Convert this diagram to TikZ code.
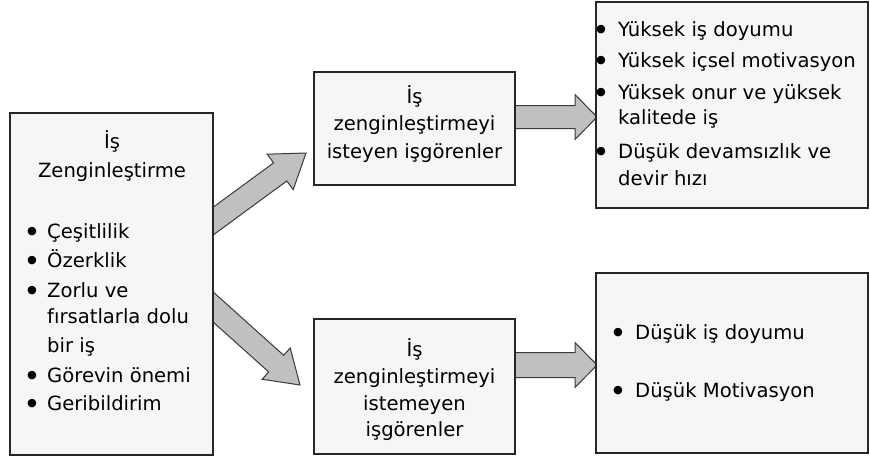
\documentclass[tikz,border=0pt]{standalone}
\usepackage{fontspec}
\setmainfont{DejaVu Sans}
\usetikzlibrary{calc}
\definecolor{boxfill}{HTML}{F6F6F6}
\definecolor{arrfill}{HTML}{C0C0C0}
\definecolor{arrline}{HTML}{3A3A3A}
\tikzset{
  box/.style={draw=black!85, line width=1.2pt, fill=boxfill, rectangle, inner sep=0pt},
  barrow/.style={fill=arrfill, draw=arrline, line width=1pt, line join=miter},
  txt/.style={inner sep=0pt, font=\fontsize{19.6}{24}\selectfont, text=black},
  lt/.style={txt, anchor=base west},
  ct/.style={txt, anchor=base},
  bul/.style={inner sep=0pt, font=\fontsize{24}{24}\selectfont\bfseries, text=black, anchor=base, yshift=-2pt},
}
% #1 start, #2 end, #3 shaft half width, #4 head half width, #5 head length
\newcommand\blockarrow[5]{%
  \path ($(#2)!#5!(#1)$) coordinate (hb);
  \filldraw[barrow] ($(#1)!#3!90:(#2)$) -- ($(hb)!#3!-90:(#1)$) -- ($(hb)!#4!-90:(#1)$)
    -- (#2) -- ($(hb)!#4!90:(#1)$) -- ($(hb)!#3!90:(#1)$) -- ($(#1)!#3!-90:(#2)$) -- cycle;
}
\begin{document}
\begin{tikzpicture}[x=1pt,y=-1pt]
\useasboundingbox (0,0) rectangle (870,459);
\fill[white] (0,0) rectangle (870,459);

% connectors (drawn below the boxes)
\coordinate (a1s) at (201,230); \coordinate (a1e) at (306,153);
\coordinate (a2s) at (202,297); \coordinate (a2e) at (300,385);
\coordinate (a3s) at (505,117); \coordinate (a3e) at (597,117);
\coordinate (a4s) at (505,365); \coordinate (a4e) at (597,365);
\blockarrow{a1s}{a1e}{11.2pt}{22pt}{32pt}
\blockarrow{a2s}{a2e}{11.2pt}{21pt}{32pt}
\blockarrow{a3s}{a3e}{11.5pt}{22.5pt}{22pt}
\blockarrow{a4s}{a4e}{12.5pt}{22.5pt}{22pt}

% boxes
\node[box, minimum width=203pt, minimum height=342pt] (L)  at (111.5,284) {};
\node[box, minimum width=201pt, minimum height=113pt] (MT) at (414.5,128.5) {};
\node[box, minimum width=201pt, minimum height=135pt] (MB) at (414.5,386.5) {};
\node[box, minimum width=272pt, minimum height=206pt] (RT) at (732,105) {};
\node[box, minimum width=272pt, minimum height=180pt] (RB) at (732,363) {};

% left box text
\node[ct] (l1) at (112,148) {İş};
\node[ct] (l2) at (112,177) {Zenginleştirme};
\node[bul] (lb1) at (32,238) {•}; \node[lt] (lt1) at (47,238) {Çeşitlilik};
\node[bul] (lb2) at (32,267) {•}; \node[lt] (lt2) at (47,267) {Özerklik};
\node[bul] (lb3) at (32,297) {•}; \node[lt] (lt3) at (47,297) {Zorlu ve};
\node[lt] (lt4) at (47,323) {fırsatlarla dolu};
\node[lt] (lt5) at (47,352) {bir iş};
\node[bul] (lb6) at (32,382) {•}; \node[lt] (lt6) at (47,382) {Görevin önemi};
\node[bul] (lb7) at (32,410) {•}; \node[lt] (lt7) at (47,410) {Geribildirim};

% middle top
\node[ct] (m1) at (414.5,103) {İş};
\node[ct] (m2) at (414.5,130) {zenginleştirmeyi};
\node[ct] (m3) at (414.5,158) {isteyen işgörenler};

% middle bottom
\node[ct] (n1) at (414.5,356) {İş};
\node[ct] (n2) at (414.5,383) {zenginleştirmeyi};
\node[ct] (n3) at (414.5,410) {istemeyen};
\node[ct] (n4) at (414.5,436) {işgörenler};

% right top
\node[bul] (rb1) at (601,36) {•};  \node[lt] (rt1) at (618,36) {Yüksek iş doyumu};
\node[bul] (rb2) at (601,67) {•};  \node[lt] (rt2) at (618,67) {Yüksek içsel motivasyon};
\node[bul] (rb3) at (601,99) {•};  \node[lt] (rt3) at (618,99) {Yüksek onur ve yüksek};
\node[lt] (rt4) at (618,124) {kalitede iş};
\node[bul] (rb5) at (601,158) {•}; \node[lt] (rt5) at (618,158) {Düşük devamsızlık ve};
\node[lt] (rt6) at (618,185) {devir hızı};

% right bottom
\node[bul] (sb1) at (618,339) {•}; \node[lt] (st1) at (635,339) {Düşük iş doyumu};
\node[bul] (sb2) at (618,397) {•}; \node[lt] (st2) at (635,397) {Düşük Motivasyon};
\end{tikzpicture}
\end{document}
